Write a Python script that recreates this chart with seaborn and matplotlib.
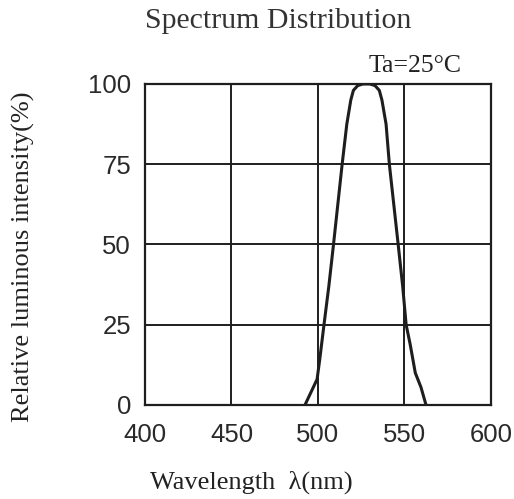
import matplotlib
matplotlib.use("Agg")
import matplotlib.pyplot as plt
import seaborn as sns
import pandas as pd

# 数据
wavelength = [492.5, 499.5, 501.0, 503.5, 506.3, 509.0, 514.0, 516.7, 519.0, 520.5,
              523.0, 526.0, 530.0, 533.0, 535.5, 537.0, 539.4, 541.3, 546.4, 549.0,
              551.0, 553.3, 556.3, 559.6, 562.5]
intensity = [0, 8, 14, 25, 37, 50, 75, 87.5, 95, 98,
             99.5, 100, 100, 99.5, 98, 95, 87.5, 75, 50, 37,
             25, 19, 10, 5.5, 0]
x_ticks = [400, 450, 500, 550, 600]
y_ticks = [0, 25, 50, 75, 100]

df = pd.DataFrame({"wl": wavelength, "rel": intensity})

sns.set_style("white")
plt.rcParams['font.family'] = ['Liberation Serif', 'DejaVu Serif']

fig = plt.figure(figsize=(5.14, 4.99), dpi=100)
ax = fig.add_axes([0.2821, 0.1884, 0.955 - 0.2821, 0.8317 - 0.1884])

line_col = '#1e1e1e'
sns.lineplot(data=df, x="wl", y="rel", ax=ax, color=line_col, linewidth=2.2,
             estimator=None, sort=False)

ax.set_xlim(400, 600)
ax.set_ylim(0, 100)
ax.set_xticks(x_ticks)
ax.set_yticks(y_ticks)
ax.grid(True, color=line_col, linewidth=1.4)
ax.set_axisbelow(True)
for s in ax.spines.values():
    s.set_color(line_col)
    s.set_linewidth(1.6)
ax.tick_params(axis='both', length=0, labelsize=18.5, colors='#2a2a2a')
ax.tick_params(axis='x', pad=13)
ax.tick_params(axis='y', pad=10)
for lab in ax.get_xticklabels() + ax.get_yticklabels():
    lab.set_family(['Liberation Sans', 'DejaVu Sans'])
ax.set_xlabel("")
ax.set_ylabel("")

# 标题和标注
fig.text(278 / 514, 1 - 28 / 499, "Spectrum Distribution", ha='center', va='baseline',
         fontsize=21.5, color='#333333')
fig.text(415 / 514, 1 - 72 / 499, "Ta=25°C", ha='center', va='baseline',
         fontsize=18.5, color='#222222')
fig.text(251 / 514, 1 - 489 / 499, "Wavelength  λ(nm)", ha='center', va='baseline',
         fontsize=19, color='#222222')
fig.text(23 / 514, 1 - 257 / 499, "Relative luminous intensity(%)", ha='center', va='center',
         rotation=90, fontsize=19, color='#222222')

fig.savefig("out.png", dpi=100)
